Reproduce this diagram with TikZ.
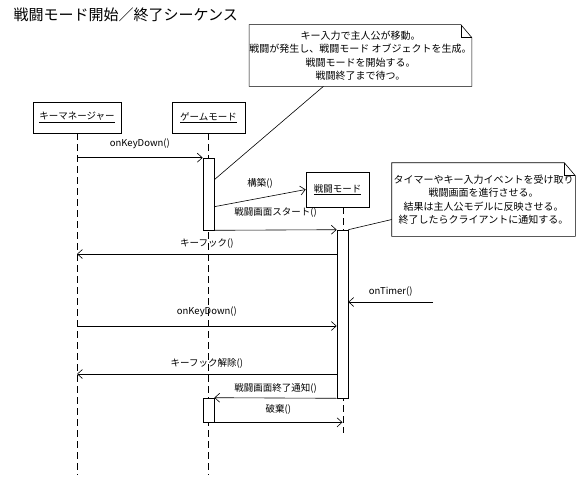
\documentclass[tikz,border=0pt]{standalone}
\usepackage{fontspec}
\setmainfont{Noto Sans CJK JP}
\usetikzlibrary{arrows.meta}

\tikzset{
  objbox/.style={draw, fill=white, minimum height=31pt, inner sep=0pt},
  actbox/.style={draw, fill=white, minimum width=11pt, inner sep=0pt},
  lifeline/.style={dash pattern=on 7pt off 4pt},
  msg/.style={-{Straight Barb[length=5pt,width=9pt]}},
  lbl/.style={inner sep=0pt, font=\fontsize{9.5}{11}\selectfont},
  notebox/.style={align=center, inner sep=0pt, font=\fontsize{10}{13.5}\selectfont}
}

\begin{document}
\begin{tikzpicture}[x=1pt,y=-1pt,line width=0.6pt,font=\fontsize{9.5}{13.5}\selectfont]
\useasboundingbox (0,0) rectangle (578,495);
\node[anchor=west,font=\fontsize{15}{18}\selectfont] (title) at (10,15) {戦闘モード開始／終了シーケンス};

% objects
\node[objbox, minimum width=88pt] (km) at (77,117.5) {\underline{キーマネージャー}};
\node[objbox, minimum width=73pt] (gm) at (208.5,117.5) {\underline{ゲームモード}};
\node[objbox, minimum width=63pt, minimum height=35pt] (bm) at (337.5,189.5) {\underline{戦闘モード}};

% lifelines
\coordinate (kmend) at (77,475);
\coordinate (gmend) at (208.5,475);
\coordinate (bmend) at (343,433);
\draw[lifeline] (km.south) -- (kmend);
\draw[lifeline] (gm.south) -- (gmend);
\draw[lifeline] (bm.south -| bmend) -- (bmend);

% activations
\node[actbox, minimum height=72pt] (act1) at (208.5,194) {};
\node[actbox, minimum height=168pt] (act2) at (342.5,314) {};
\node[actbox, minimum height=24pt] (act3) at (208.5,410) {};

% message rows
\coordinate (hook) at (0,254);
\coordinate (timer) at (433,302);
\coordinate (key2) at (0,326);
\coordinate (unhook) at (0,374);

% messages
\draw[msg] (km |- act1.north) -- node[lbl,above=9pt] {onKeyDown()} (act1.north west);
\draw[msg] ([yshift=-49pt]act1.north east) -- node[lbl,above=9pt] {構築()} (bm.west);
\draw[msg] (act1.south east) -- node[lbl,above=12pt] {戦闘画面スタート()} (act2.north west);
\draw[msg] (act2.west |- hook) -- node[lbl,above=5pt] {キーフック()} (km |- hook);
\draw[msg] (timer) -- node[lbl,above=5pt] {onTimer()} (act2.east |- timer);
\draw[msg] (km |- key2) -- node[lbl,above=9pt] {onKeyDown()} (act2.west |- key2);
\draw[msg] (act2.west |- unhook) -- node[lbl,above=5pt] {キーフック解除()} (km |- unhook);
\draw[msg] (act2.south west) -- node[lbl,above=4pt] {戦闘画面終了通知()} (act3.north east);
\draw[msg] (act3.south east) -- node[lbl,above=8pt] {破棄()} (act2 |- act3.south);

% notes
\node[notebox, minimum width=217pt, minimum height=61pt] (n1) at (360.5,55.5)
  {キー入力で主人公が移動。\\戦闘が発生し、戦闘モード オブジェクトを生成。\\戦闘モードを開始する。\\戦闘終了まで待つ。};
\draw (n1.north west) -- ([xshift=-11pt]n1.north east) -- ([yshift=-13pt]n1.north east)
  -- (n1.south east) -- (n1.south west) -- cycle;
\draw ([xshift=-11pt]n1.north east) |- ([yshift=-13pt]n1.north east);
\draw ([xshift=-37pt]n1.south) -- ([yshift=-22pt]act1.north east);

\node[notebox, minimum width=183pt, minimum height=73pt] (n2) at (483.5,199.5)
  {タイマーやキー入力イベントを受け取り\\戦闘画面を進行させる。\\結果は主人公モデルに反映させる。\\終了したらクライアントに通知する。};
\draw (n2.north west) -- ([xshift=-11pt]n2.north east) -- ([yshift=-13pt]n2.north east)
  -- (n2.south east) -- (n2.south west) -- cycle;
\draw ([xshift=-11pt]n2.north east) |- ([yshift=-13pt]n2.north east);
\draw ([yshift=-20pt]n2.west) -- (act2.north east);
\end{tikzpicture}
\end{document}
